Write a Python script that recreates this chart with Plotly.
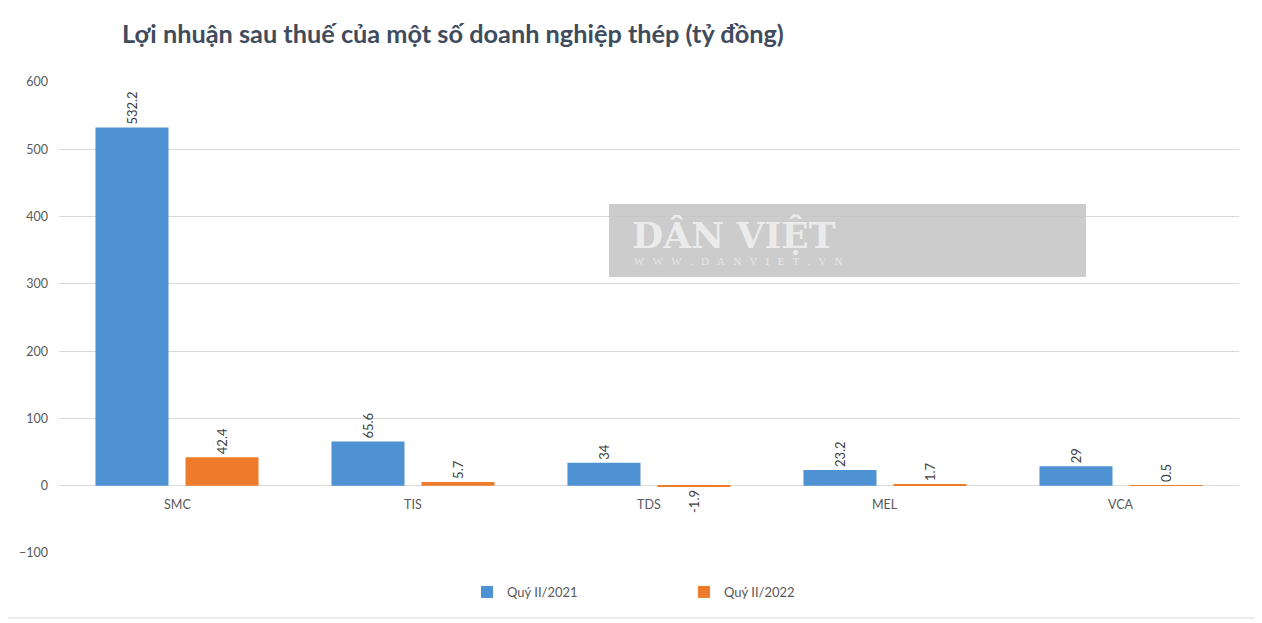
import plotly.graph_objects as go

categories = ["SMC", "TIS", "TDS", "MEL", "VCA"]
q2_2021 = [532.2, 65.6, 34, 23.2, 29]
q2_2022 = [42.4, 5.7, -1.9, 1.7, 0.5]
series_names = ["Quý II/2021", "Quý II/2022"]
y_ticks = [-100, 0, 100, 200, 300, 400, 500, 600]

OFF = 8  # page body margin
W, H = 1262 - OFF, 623 - OFF
ML, MR, MT, MB = 59 - OFF, 23, 82 - OFF, 70
PW, PH = W - ML - MR, H - MT - MB


def px_x(sx):
    return (sx - OFF - ML) / PW


def px_y(sy):
    return (H - MB - (sy - OFF)) / PH


FONT = "Lato, Open Sans, sans-serif"
label_font = dict(family=FONT, size=13, color="#404040")

fig = go.Figure()
fig.add_trace(go.Bar(
    x=categories, y=q2_2021, name=series_names[0],
    marker=dict(color="#4f92d4", line=dict(width=0)),
    text=[f"{v:g}" for v in q2_2021], textposition="outside", textangle=-90,
    textfont=label_font, cliponaxis=False,
))
fig.add_trace(go.Bar(
    x=categories, y=q2_2022, name=series_names[1],
    marker=dict(color="#ee7a2c", line=dict(width=0)),
    text=[f"{v:g}" for v in q2_2022], textposition="outside", textangle=-90,
    textfont=label_font, cliponaxis=False,
))

# category labels placed just below the zero line
for c in categories:
    fig.add_annotation(x=c, y=0, xref="x", yref="y", text=c, showarrow=False,
                       yshift=-19, font=dict(family=FONT, size=12.5, color="#595959"))

# watermark box
fig.add_shape(type="rect", xref="paper", yref="paper",
              x0=px_x(609), x1=px_x(1086), y0=px_y(277), y1=px_y(204),
              fillcolor="rgba(195,195,195,0.85)", line=dict(width=0), layer="above")
fig.add_annotation(xref="paper", yref="paper", x=px_x(630), y=px_y(235), xanchor="left",
                   yanchor="middle", text="<b>DÂN VIỆT</b>", showarrow=False,
                   font=dict(family="DejaVu Serif, Liberation Serif, serif", size=36,
                             color="#ebebeb"))
sp = "\u00a0" * 3
fig.add_annotation(xref="paper", yref="paper", x=px_x(632), y=px_y(261), xanchor="left",
                   yanchor="middle",
                   text=sp.join("WWW.DANVIET.VN"),
                   showarrow=False,
                   font=dict(family="Liberation Serif, serif", size=11, color="#e6e6e6"))

# chart area border
fig.add_shape(type="rect", xref="paper", yref="paper",
              x0=px_x(5), x1=px_x(1258), y0=px_y(618), y1=px_y(4),
              line=dict(color="#d9d9d9", width=1), fillcolor="rgba(0,0,0,0)", layer="below")

fig.update_layout(
    width=W, height=H,
    margin=dict(l=ML, r=MR, t=MT, b=MB),
    paper_bgcolor="white", plot_bgcolor="white",
    barmode="group", bargap=0.237, bargroupgap=0.189,
    title=dict(text="<b>Lợi nhuận sau thuế của một số doanh nghiệp thép (tỷ đồng)</b>",
               x=(122 - OFF) / W, xanchor="left", xref="container",
               y=1 - (34 - OFF) / H, yanchor="middle",
               font=dict(family=FONT, size=25.3, color="#404c5e")),
    legend=dict(orientation="h", x=px_x(467), xanchor="left", y=px_y(592), yanchor="middle",
                font=dict(family=FONT, size=13, color="#595959"),
                entrywidth=172, traceorder="normal"),
    xaxis=dict(showticklabels=False, showgrid=False, zeroline=False, showline=False,
               ticks=""),
    yaxis=dict(range=[-100, 600], tickvals=y_ticks, showgrid=True, gridcolor="#d9d9d9",
               gridwidth=1, zeroline=True, zerolinecolor="#d9d9d9", zerolinewidth=1,
               showline=False, ticks="", ticklabelstandoff=10,
               tickfont=dict(family=FONT, size=12.5, color="#595959")),
    font=dict(family=FONT),
)

fig.write_html("out.html")
